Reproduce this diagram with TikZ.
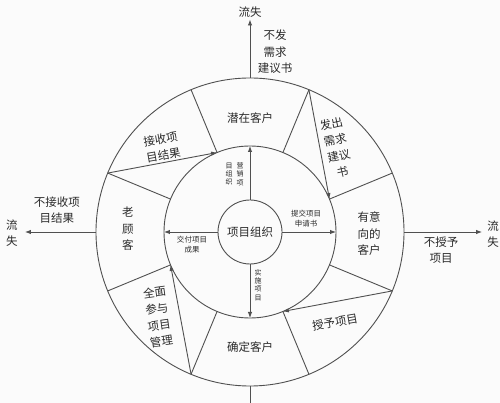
\documentclass[tikz,border=0pt]{standalone}
\usepackage{fontspec}
\setmainfont{Noto Sans CJK SC}
\usetikzlibrary{arrows.meta,positioning}
\definecolor{ringline}{HTML}{505050}
\definecolor{paper}{HTML}{FBFBFB}
\definecolor{ink}{HTML}{2A2A2A}

\tikzset{
  ring/.style={draw=ringline, line width=0.9pt},
  flow/.style={ringline, line width=0.9pt, -{Latex[length=6pt,width=4.5pt]}},
  stage/.style={text=ink, font=\fontsize{11.5}{16.5}\selectfont, align=center, inner sep=0pt},
  note/.style={text=ink, font=\fontsize{7.5}{10}\selectfont, align=center, inner sep=0pt},
  column/.style={text=ink, font=\fontsize{7}{8.4}\selectfont, align=center, inner sep=0pt}
}

\begin{document}
\begin{tikzpicture}[x=1pt, y=1pt]
  % canvas, centre of the rings at the origin
  \useasboundingbox[fill=paper] (-250,-171) rectangle (250,232);

  % the two rings and the core
  \draw[ring] (0,0) circle (154);
  \draw[ring] (0,0) circle (86);
  \node[ring, circle, minimum size=64pt, stage] (core) at (0,0) {项目组织};

  % points on the rings
  \foreach \i in {1,...,8} {
    \coordinate (o\i) at (45*\i-22.5:154);
    \coordinate (m\i) at (45*\i-22.5:86);
  }
  \foreach \n/\a in {top/90, right/0, bottom/270, left/180} {
    \coordinate (o\n) at (\a:154);
    \coordinate (m\n) at (\a:86);
  }

  % dividers of the outer ring
  \foreach \i in {1,...,8}
    \draw[ring] (m\i) -- (o\i);

  % transitions round the ring
  \foreach \i in {2,4,6,8} {
    \pgfmathtruncatemacro{\j}{\i-1}
    \draw[flow] (o\i) -- (m\j);
  }

  % stages
  \node[stage] (potential) at (0,114) {潜在客户};
  \node[stage] (intent) at (119,-2) {有意\\向的\\客户};
  \node[stage] (confirmed) at (0,-115) {确定客户};
  \node[stage] (loyal) at (-122,3) {老\\顾\\客};

  % transition labels
  \node[stage, rotate=13] (ask) at (87,84) {发出\\需求\\建议\\书};
  \node[stage, rotate=10] (award) at (85,-90) {授予项目};
  \node[stage, rotate=8] (manage) at (-92,-85) {全面\\参与\\项目\\管理};
  \node[stage, rotate=10] (receive) at (-88,85) {接收项\\目结果};

  % core to the inner ring
  \draw[flow] (core.north) -- (mtop);
  \draw[flow] (core.east) -- (mright);
  \draw[flow] (core.south) -- (mbottom);
  \draw[flow] (core.west) -- (mleft);
  \node[column] (marketA) at (-10,58) {营\\销\\项};
  \node[column] (marketB) at (-21,58) {目\\组\\织};
  \node[note] (submit) at (56,13) {提交项目\\申请书};
  \node[note] (deliver) at (-58,-13) {交付项目\\成果};
  \node[column] (execute) at (8,-53) {实\\施\\项\\目};

  % losses
  \node[stage] (lossT) at (0,220) {流失};
  \node[stage] (lossL) at (-238,-1) {流\\失};
  \node[stage] (lossR) at (243,-2) {流\\失};
  \coordinate (cutB) at (0,-171);
  \draw[flow, shorten >=2pt] (otop) -- (lossT.south);
  \draw[flow, shorten >=7pt] (oleft) -- (lossL.east |- oleft);
  \draw[flow, shorten >=5pt] (oright) -- (lossR.west |- oright);
  \draw[ring] (obottom) -- (cutB);
  \node[stage] (nosend) at (25,180) {不发\\需求\\建议书};
  \node[stage] (noaccept) at (-193,22) {不接收项\\目结果};
  \node[stage] (noaward) at (191,-18) {不授予\\项目};
\end{tikzpicture}
\end{document}
